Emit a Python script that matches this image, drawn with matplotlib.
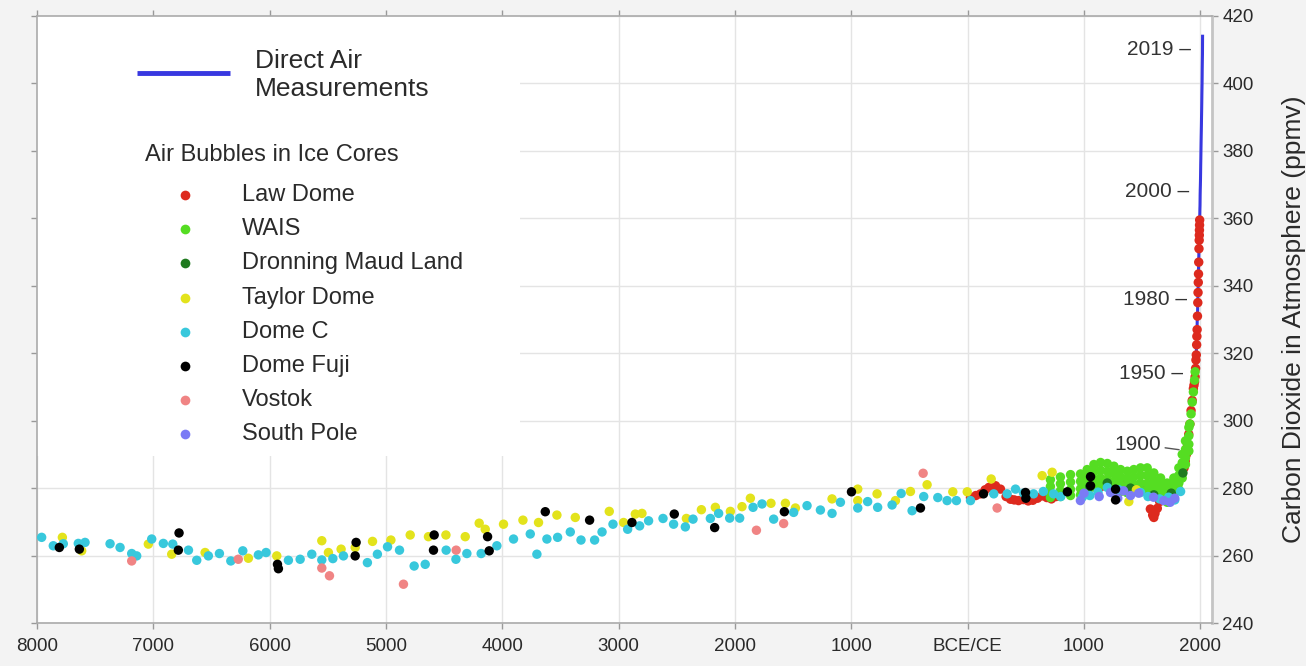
import numpy as np
import matplotlib.pyplot as plt
from matplotlib.patches import Rectangle

plt.rcParams['font.family'] = ['Liberation Sans', 'DejaVu Sans']

# ---- data (year: negative = BCE, ppm) ----
law_dome_year = [24, 70, 110, 150, 182, 239, 282, 330, 368, 400, 437, 480, 520, 560, 600,
                 640, 680, 720, 760, 1010, 1050, 1100, 1150, 1200, 1250, 1300, 1350, 1400,
                 1450, 1500, 1550, 1570, 1590, 1600, 1610, 1630, 1650, 1700, 1720, 1750,
                 1770, 1790, 1800, 1820, 1840, 1860, 1870, 1880, 1890, 1900, 1910, 1920,
                 1930, 1940, 1945, 1950, 1955, 1959, 1962, 1965, 1968, 1970, 1972, 1975,
                 1978, 1980, 1982, 1984, 1986, 1988, 1990, 1991, 1992, 1993, 1994]
law_dome_ppm = [277.2, 277.8, 278.3, 279.5, 280.2, 280.7, 279.7, 277.5, 276.7, 276.5, 276.3,
                276.6, 276.2, 276.4, 277.0, 277.7, 277.2, 276.8, 277.5, 279.5, 280.2, 281.0,
                280.5, 281.8, 281.3, 280.8, 281.6, 280.2, 279.4, 280.0, 278.6, 273.8, 272.0,
                271.3, 272.5, 274.0, 276.0, 276.8, 277.5, 277.0, 278.5, 280.0, 282.0, 283.5,
                284.5, 286.0, 288.0, 290.0, 293.0, 296.0, 299.0, 303.0, 306.0, 309.5, 310.5,
                311.5, 313.0, 315.5, 318.0, 319.5, 322.5, 325.0, 327.0, 331.0, 335.0, 338.0,
                341.0, 343.5, 347.0, 351.0, 353.5, 355.0, 356.5, 358.0, 359.5]

wais_year = [711, 797, 884, 970, 1027, 1085, 1142, 1200, 1257, 1314, 1372, 1428, 1486, 1543,
             1600, 1658, 1715, 1772, 1815, 1844, 1872, 1901,
             711, 797, 884, 970, 1027, 1085, 1142, 1200, 1257, 1314, 1372, 1428, 1486, 1543,
             1600, 1658, 1715, 1772, 1815, 1844, 1872, 1901,
             711, 797, 884, 970, 1027, 1085, 1142, 1200, 1257, 1314, 1372, 1428, 1486, 1543,
             1600, 1658, 1715, 1772, 1815, 1844, 1872, 1901,
             711, 797, 884, 970, 1027, 1085, 1142, 1200, 1257, 1314, 1372, 1428, 1486, 1543,
             1600, 1658, 1715, 1772, 1815, 1844, 1872, 1901,
             1910, 1920, 1930, 1940, 1950, 1955]
wais_ppm = [282.5, 283.3, 284.0, 284.2, 285.5, 287.0, 287.6, 287.3, 286.5, 285.5, 285.0, 285.5,
            286.0, 286.0, 284.5, 283.0, 281.5, 283.0, 286.0, 290.0, 294.0, 298.0,
            280.5, 281.3, 281.8, 282.0, 283.3, 284.8, 285.3, 285.0, 284.3, 283.3, 282.8, 283.3,
            283.8, 283.7, 282.3, 280.8, 279.3, 280.8, 283.8, 287.5, 291.5, 295.5,
            278.6, 279.2, 279.6, 279.8, 281.0, 282.5, 283.0, 282.7, 282.0, 281.0, 280.6, 281.0,
            281.5, 281.4, 280.2, 278.7, 277.3, 278.5, 281.5, 285.0, 289.0, 293.0,
            277.2, 277.5, 277.8, 278.0, 279.0, 280.3, 280.8, 280.5, 279.8, 279.0, 278.6, 279.0,
            279.4, 279.3, 278.3, 277.0, 275.8, 276.8, 279.6, 283.0, 287.0, 291.0,
            299.0, 302.0, 305.5, 308.5, 312.0, 314.5]

dml_year = [1050, 1200, 1400, 1600, 1750, 1850]
dml_ppm = [280.5, 281.5, 280.0, 278.0, 278.5, 284.5]

taylor_year = [-7782, -7616, -7043, -6842, -6555, -6183, -5939, -5552, -5495, -5386,
               -5265, -5116, -4958, -4792, -4635, -4485, -4319, -4199, -4147, -3990,
               -3823, -3689, -3531, -3373, -3081, -2958, -2857, -2800, -2418, -2289,
               -2169, -2040, -1940, -1868, -1691, -1567, -1481, -1166, -945, -945,
               -779, -621, -492, -349, -128, -4, 202, 640, 726, 1385, 1450]
taylor_ppm = [265.4, 261.4, 263.4, 260.4, 260.9, 259.2, 259.9, 264.4, 260.9, 261.9,
              262.4, 264.2, 264.6, 266.1, 265.6, 266.1, 265.6, 269.6, 267.8, 269.3,
              270.5, 269.8, 272.0, 271.3, 273.1, 269.8, 272.3, 272.5, 271.0, 273.6,
              274.3, 273.1, 274.5, 277.0, 275.5, 275.5, 274.1, 276.8, 279.7, 276.3,
              278.3, 276.3, 279.0, 281.0, 278.9, 278.9, 282.7, 283.7, 284.7, 276.0, 279.5]

dome_c_year = [-7960, -7860, -7774, -7645, -7587, -7372, -7286, -7186, -7143, -7014,
               -6914, -6833, -6698, -6627, -6527, -6432, -6334, -6231, -6097, -6031,
               -5839, -5738, -5638, -5552, -5457, -5366, -5160, -5074, -4987, -4884,
               -4758, -4663, -4483, -4399, -4305, -4182, -4047, -3904, -3760, -3703,
               -3617, -3525, -3416, -3324, -3207, -3143, -3049, -2923, -2820, -2743,
               -2619, -2528, -2427, -2361, -2212, -2141, -2046, -1960, -1845, -1768,
               -1668, -1496, -1381, -1266, -1166, -1094, -945, -860, -774, -650,
               -572, -478, -378, -257, -177, -97, 24, 224, 339, 411,
               480, 566, 650, 738, 800, 985, 1050, 1120, 1200, 1300,
               1486, 1550, 1650, 1727, 1780, 1830]
dome_c_ppm = [265.4, 262.9, 263.5, 263.6, 263.9, 263.5, 262.4, 260.6, 259.9, 264.9,
              263.6, 263.4, 261.6, 258.6, 259.9, 260.6, 258.4, 261.4, 260.2, 260.9,
              258.6, 258.9, 260.4, 258.7, 259.1, 259.9, 257.9, 260.4, 262.6, 261.6,
              256.9, 257.4, 261.6, 258.9, 260.6, 260.6, 262.9, 264.9, 266.4, 260.4,
              264.9, 265.4, 267.0, 264.6, 264.6, 267.0, 269.3, 267.8, 268.8, 270.3,
              271.0, 269.3, 268.5, 270.8, 271.0, 272.5, 271.1, 271.1, 274.3, 275.3,
              270.8, 272.8, 274.8, 273.5, 272.5, 275.8, 274.1, 276.0, 274.3, 275.0,
              278.4, 273.3, 277.5, 277.2, 276.3, 276.3, 276.3, 278.3, 278.3, 279.7,
              278.5, 278.3, 279.0, 278.3, 277.5, 277.3, 277.8, 278.8, 280.2, 279.5,
              278.7, 277.5, 276.8, 277.3, 276.5, 279.0]

fuji_year = [-7808, -7636, -6779, -6785, -5933, -5925, -5257, -5265, -4586, -4592,
             -4127, -4113, -3631, -3250, -2886, -2522, -2175, -1576, -999, -406,
             136, 497, 500, 857, 1056, 1056, 1271, 1271]
fuji_ppm = [262.4, 261.9, 266.7, 261.6, 257.4, 256.1, 263.9, 259.9, 266.1, 261.6,
            265.6, 261.4, 273.0, 270.5, 269.8, 272.3, 268.3, 273.0, 278.9, 274.1,
            278.3, 278.7, 277.0, 278.9, 283.4, 280.7, 279.7, 276.5]

vostok_year = [-7186, -6270, -5552, -5486, -4850, -4397, -1816, -1582, -383, 253]
vostok_ppm = [258.4, 258.9, 256.3, 254.0, 251.5, 261.6, 267.5, 269.5, 284.4, 274.1]

south_pole_year = [969, 1000, 1130, 1228, 1290, 1340, 1400, 1470, 1598, 1685, 1740, 1780]
south_pole_ppm = [276.3, 278.5, 277.5, 278.7, 277.0, 279.2, 277.8, 278.5, 277.3, 276.3, 275.8, 277.0]

# direct air measurements (Mauna Loa)
air_year = np.arange(1959, 2020)
air_ppm = [315.98, 316.91, 317.64, 318.45, 318.99, 319.62, 320.04, 321.37, 322.18, 323.05,
           324.62, 325.68, 326.32, 327.46, 329.68, 330.19, 331.13, 332.03, 333.84, 335.41,
           336.84, 338.76, 340.12, 341.48, 343.15, 344.87, 346.35, 347.61, 349.31, 351.69,
           353.20, 354.45, 355.70, 356.54, 357.21, 358.96, 360.97, 362.74, 363.88, 366.84,
           368.54, 369.71, 371.32, 373.45, 375.98, 377.70, 379.98, 382.09, 384.02, 385.83,
           387.64, 390.10, 391.85, 394.06, 396.74, 398.81, 401.01, 404.41, 406.76, 408.72,
           414.0]

ann_year = [1900, 1950, 1980, 2000, 2019]
ann_ppm = [291, 314, 336, 368, 410]

xtick_vals = np.arange(-8000, 2001, 1000)
xtick_labels = ['8000', '7000', '6000', '5000', '4000', '3000', '2000', '1000',
                'BCE/CE', '1000', '2000']
ytick_vals = np.arange(240, 421, 20)

BLUE = '#3838e0'
TXT = '#2a2a2a'
# drawing order (bottom to top)
series = [
    ('Law Dome', law_dome_year, law_dome_ppm, '#dd2a1e'),
    ('WAIS', wais_year, wais_ppm, '#55dd22'),
    ('Dronning Maud Land', dml_year, dml_ppm, '#1f7a1f'),
    ('Taylor Dome', taylor_year, taylor_ppm, '#e3e31c'),
    ('Dome C', dome_c_year, dome_c_ppm, '#38c8dc'),
    ('Vostok', vostok_year, vostok_ppm, '#f08484'),
    ('South Pole', south_pole_year, south_pole_ppm, '#7b7bf5'),
    ('Dome Fuji', fuji_year, fuji_ppm, '#000000'),
]
legend_order = ['Law Dome', 'WAIS', 'Dronning Maud Land', 'Taylor Dome', 'Dome C',
                'Dome Fuji', 'Vostok', 'South Pole']
colors = {name: c for name, _, _, c in series}

W, H = 1306, 666
fig = plt.figure(figsize=(W / 100, H / 100), dpi=100, facecolor='#f3f3f3')
ax = fig.add_axes([37 / W, 43 / H, 1175 / W, 607 / H])
ax.set_facecolor('white')

ax.plot(air_year, air_ppm, color=BLUE, lw=2.2, zorder=2)
for name, xs, ys, c in series:
    ax.scatter(xs, ys, s=46, color=c, edgecolors='none', zorder=3)

# white panel behind the legend hides the grid there
ax.add_patch(Rectangle((-8000, 289.5), 4150, 130.5, facecolor='white',
                       edgecolor='none', zorder=1))

for yr, v in zip(ann_year, ann_ppm):
    if yr == 1900:
        ax.annotate('1900', xy=(yr, v), xytext=(-20, 5), textcoords='offset points',
                    ha='right', va='center', fontsize=15, color='#333333',
                    arrowprops=dict(arrowstyle='-', color='#555555', lw=1,
                                    shrinkA=1, shrinkB=7), zorder=4)
    else:
        ax.annotate(f'{yr} \u2013', xy=(yr, v), xytext=(-8, 0),
                    textcoords='offset points', ha='right', va='center',
                    fontsize=15, color='#333333', zorder=4)

ax.set_xlim(-8000, 2100)
ax.set_ylim(240, 420)
ax.set_xticks(xtick_vals)
ax.set_xticklabels(xtick_labels)
ax.set_yticks(ytick_vals)
ax.yaxis.tick_right()
ax.yaxis.set_label_position('right')
ax.tick_params(axis='both', direction='out', length=4.5, width=1, color='#999999',
               labelsize=13.5, labelcolor=TXT, top=True, bottom=True,
               left=True, right=True, labelleft=False, labelright=True)
ax.tick_params(axis='x', pad=6.5)
ax.tick_params(axis='y', pad=3)
ax.grid(True, color='#e4e4e4', lw=1)
ax.set_axisbelow(True)
for side in ax.spines:
    ax.spines[side].set_color('#aaaaaa')
    ax.spines[side].set_linewidth(1.2)
ax.spines['right'].set_linewidth(2)
ax.spines['right'].set_color('#c4c4c4')
ax.set_ylabel('Carbon Dioxide in Atmosphere (ppmv)', fontsize=19, color=TXT,
              labelpad=20)


# legend drawn by hand in figure pixels
def fx(px):
    return px / W


def fy(py):
    return 1 - py / H


ax.plot([fx(137), fx(230)], [fy(73), fy(73)], transform=fig.transFigure,
        color=BLUE, lw=3.5, solid_capstyle='butt', zorder=5)
fig.text(fx(255), fy(75), 'Direct Air\nMeasurements', fontsize=19, color=TXT,
         va='center', ha='left', linespacing=1.2)
fig.text(fx(145), fy(155), 'Air Bubbles in Ice Cores', fontsize=17, color=TXT,
         va='center', ha='left')
for i, name in enumerate(legend_order):
    yy = 195 + 34.2 * i
    ax.plot([fx(185)], [fy(yy)], 'o', ms=7, mec='none', color=colors[name],
            transform=fig.transFigure, zorder=5)
    fig.text(fx(242), fy(yy), name, fontsize=17, color=TXT, va='center', ha='left')

fig.savefig('out.png', dpi=100, facecolor=fig.get_facecolor())
